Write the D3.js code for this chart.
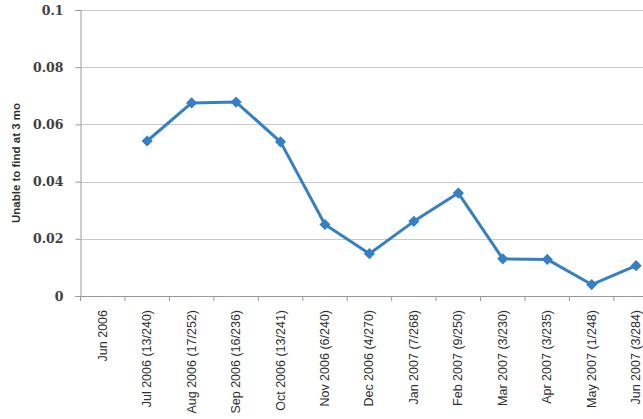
<!DOCTYPE html>
<html>
<head>
    <script src="https://d3js.org/d3.v7.min.js"></script>
    <style>
        body { margin: 0; background: #fff; }
        svg { display: block; }
        .ytick text { font-family: "DejaVu Serif", "Liberation Serif", serif; }
    </style>
</head>
<body>
    <svg id="chart" width="643" height="419"></svg>
    <script>
        // months on the x axis and the share unable to find work at 3 months
        const months = ["Jun 2006", "Jul 2006 (13/240)", "Aug 2006 (17/252)", "Sep 2006 (16/236)",
            "Oct 2006 (13/241)", "Nov 2006 (6/240)", "Dec 2006 (4/270)", "Jan 2007 (7/268)",
            "Feb 2007 (9/250)", "Mar 2007 (3/230)", "Apr 2007 (3/235)", "May 2007 (1/248)",
            "Jun 2007 (3/284)"];
        const rates = [null, 0.0542, 0.0675, 0.0678, 0.0539, 0.025, 0.0148, 0.0261,
            0.036, 0.013, 0.0128, 0.0040, 0.0106];
        const yTicks = [0, 0.02, 0.04, 0.06, 0.08, 0.1];

        const svg = d3.select("#chart");
        const plotLeft = 80.5, plotTop = 10, plotH = 286;
        const bandW = 44.45;

        const x = d3.scaleBand()
            .domain(months)
            .range([plotLeft, plotLeft + bandW * months.length]);
        const y = d3.scaleLinear().domain([0, 0.1]).range([plotTop + plotH, plotTop]);

        // gridlines
        svg.append("g")
            .selectAll("line")
            .data(yTicks.filter(d => d > 0))
            .join("line")
            .attr("x1", plotLeft).attr("x2", 643)
            .attr("y1", d => Math.round(y(d)) + 0.5)
            .attr("y2", d => Math.round(y(d)) + 0.5)
            .attr("stroke", "#c9c9c9")
            .attr("stroke-width", 1.2);

        // y axis
        const yAxis = svg.append("g")
            .attr("class", "ytick")
            .attr("transform", `translate(${plotLeft},0)`)
            .call(d3.axisLeft(y).tickValues(yTicks).tickSize(5).tickPadding(12)
                .tickFormat(d => d === 0 ? "0" : String(+d.toFixed(2))));
        yAxis.attr("font-family", null);
        yAxis.select(".domain").attr("stroke", "#9a9a9a");
        yAxis.selectAll(".tick line").attr("stroke", "#9a9a9a");
        yAxis.selectAll(".tick text")
            .attr("fill", "#404040")
            .attr("font-weight", "bold")
            .attr("font-size", "12.5px");

        // x axis
        const xAxis = svg.append("g")
            .attr("transform", `translate(0,${plotTop + plotH + 0.5})`)
            .call(d3.axisBottom(x).tickSize(0).tickFormat(""));
        xAxis.select(".domain").attr("stroke", "#9a9a9a").attr("d", `M${plotLeft - 5},0H643`);

        svg.append("g")
            .selectAll("line")
            .data(months.map((m, i) => i))
            .join("line")
            .attr("x1", i => x.range()[0] + i * bandW)
            .attr("x2", i => x.range()[0] + i * bandW)
            .attr("y1", plotTop + plotH).attr("y2", plotTop + plotH + 5)
            .attr("stroke", "#9a9a9a");

        svg.append("g")
            .selectAll("text")
            .data(months)
            .join("text")
            .attr("transform", d => `translate(${x(d) + x.bandwidth() / 2 + 4},${plotTop + plotH + 14}) rotate(-90)`)
            .attr("text-anchor", "end")
            .attr("font-family", "Liberation Sans, Arial, sans-serif")
            .attr("font-size", "12.5px")
            .attr("fill", "#303030")
            .text(d => d);

        // y title
        svg.append("text")
            .attr("transform", `translate(20,${plotTop + plotH / 2 + 10}) rotate(-90)`)
            .attr("text-anchor", "middle")
            .attr("font-family", "Liberation Sans, Arial, sans-serif")
            .attr("font-weight", "bold")
            .attr("font-size", "11.5px")
            .attr("fill", "#303030")
            .text("Unable to find at 3 mo");

        // series
        const pts = months.map((m, i) => ({ m, v: rates[i] })).filter(d => d.v !== null);
        const cx = d => x(d.m) + x.bandwidth() / 2;

        svg.append("path")
            .datum(pts)
            .attr("fill", "none")
            .attr("stroke", "#3580c4")
            .attr("stroke-width", 3)
            .attr("stroke-linejoin", "round")
            .attr("d", d3.line().x(cx).y(d => y(d.v)));

        svg.append("g")
            .selectAll("path")
            .data(pts)
            .join("path")
            .attr("transform", d => `translate(${cx(d)},${y(d.v)})`)
            .attr("d", d3.symbol(d3.symbolDiamond2, 80))
            .attr("fill", "#3580c4");
    </script>
</body>
</html>
